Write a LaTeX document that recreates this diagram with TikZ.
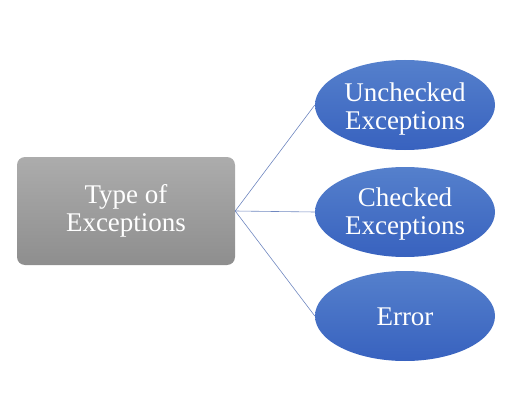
\documentclass[tikz,border=0pt]{standalone}
\usepackage{fontspec}
\setmainfont{Liberation Serif}
\usetikzlibrary{shapes.geometric}
\definecolor{rtop}{HTML}{ACACAC}
\definecolor{rbot}{HTML}{8E8E8E}
\definecolor{etop}{HTML}{5580CC}
\definecolor{ebot}{HTML}{3862BF}
\definecolor{link}{HTML}{7088C0}
\tikzset{
  rootbox/.style={rectangle, rounded corners=8pt, minimum width=218pt, minimum height=108pt,
    top color=rtop, bottom color=rbot, draw=none, text=white, align=center,
    font=\fontsize{27}{28}\selectfont, inner sep=0pt},
  leaf/.style={ellipse, minimum width=180pt, minimum height=90pt, inner sep=0pt,
    top color=etop, bottom color=ebot, draw=none},
  leaftext/.style={text=white, align=center, inner sep=0pt,
    font=\fontsize{27}{28}\selectfont},
  linkline/.style={draw=link, line width=0.6pt}
}
\begin{document}
\begin{tikzpicture}[x=1pt,y=1pt]
\useasboundingbox (0,0) rectangle (512,408);
\node[rootbox] (root) at (126,197) {Type of\\Exceptions};
\node[leaf] (unc) at (405,303) {};
\node[leaf] (chk) at (405,196) {};
\node[leaf] (err) at (405,92) {};
\node[leaftext] (unct) at ([yshift=-4pt]unc.center) {Unchecked\\Exceptions};
\node[leaftext] (chkt) at ([yshift=-2pt]chk.center) {Checked\\Exceptions};
\node[leaftext] (errt) at ([yshift=-1pt]err.center) {Error};
\draw[linkline] (root.east) -- (unc.west);
\draw[linkline] (root.east) -- (chk.west);
\draw[linkline] (root.east) -- (err.west);
\end{tikzpicture}
\end{document}
